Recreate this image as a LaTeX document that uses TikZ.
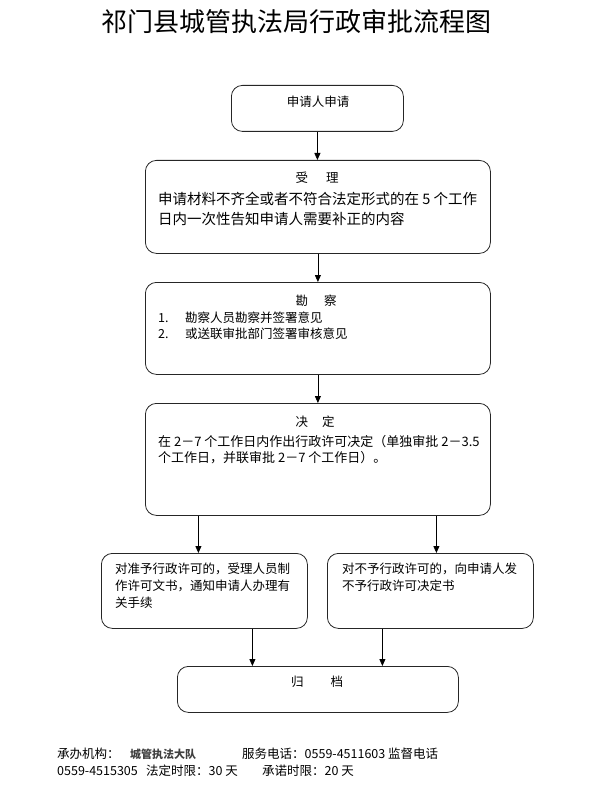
\documentclass[tikz,border=0pt]{standalone}
\usepackage{fontspec}
\setmainfont{Noto Sans CJK SC}
\usetikzlibrary{arrows.meta}

\begin{document}
\begin{tikzpicture}[
    x=1pt, y=-1pt,
    >={Triangle[length=7pt,width=6pt]},
    box/.style={draw=black!85, line width=0.8pt, rounded corners=11pt, anchor=north west, inner sep=0pt},
    arr/.style={->, line width=0.8pt},
    head/.style={font=\fontsize{12.5}{15}\selectfont, inner sep=0pt},
    body/.style={font=\fontsize{12.5}{16}\selectfont, align=left, anchor=north west, inner sep=0pt},
    foot/.style={font=\fontsize{12.5}{15}\selectfont, anchor=west, inner sep=0pt}
]
    \useasboundingbox (0,0) rectangle (597,794);
    \node[font=\fontsize{26}{30}\selectfont, inner sep=0pt] (title) at (296,22) {祁门县城管执法局行政审批流程图};

    \node[box, minimum width=172pt, minimum height=46pt] (apply) at (231,85) {};
    \node[box, minimum width=345pt, minimum height=93pt] (accept) at (145,160) {};
    \node[box, minimum width=345pt, minimum height=92pt] (survey) at (145,282) {};
    \node[box, minimum width=345pt, minimum height=112pt] (decide) at (145,403) {};
    \node[box, minimum width=206pt, minimum height=75pt] (grant) at (101,553) {};
    \node[box, minimum width=206pt, minimum height=75pt] (refuse) at (327,553) {};
    \node[box, minimum width=281pt, minimum height=46pt] (archive) at (177,666) {};

    \node[head] (applyT) at (318,102) {申请人申请};
    \node[head] (acceptH) at (317,178) {受\hspace{18pt}理};
    \node[body, font=\fontsize{14.5}{20}\selectfont] (acceptT) at (158,192) {申请材料不齐全或者不符合法定形式的在 5 个工作\\日内一次性告知申请人需要补正的内容};
    \node[head] (surveyH) at (316,301) {勘\hspace{16pt}察};
    \node[body] (surveyT) at (158,312) {\makebox[27pt][l]{1.}勘察人员勘察并签署意见\\\makebox[27pt][l]{2.}或送联审批部门签署审核意见};
    \node[head] (decideH) at (315,422) {决\hspace{14pt}定};
    \node[body, font=\fontsize{13}{16}\selectfont] (decideT) at (158,435) {在 2－7 个工作日内作出行政许可决定（单独审批 2－3.5\\个工作日，并联审批 2－7 个工作日）。};
    \node[body, font=\fontsize{12.5}{17}\selectfont] (grantT) at (115,563) {对准予行政许可的，受理人员制\\作许可文书，通知申请人办理有\\关手续};
    \node[body, font=\fontsize{12.5}{17}\selectfont] (refuseT) at (342,563) {对不予行政许可的，向申请人发\\不予行政许可决定书};
    \node[head] (archiveT) at (317,682) {归\hspace{27pt}档};

    \draw[arr] (apply.south) -- (apply.south |- accept.north);
    \draw[arr] (accept.south) -- (survey.north);
    \draw[arr] (survey.south) -- (decide.north);
    \draw[arr] ([xshift=-6pt]grant.north |- decide.south) -- ([xshift=-6pt]grant.north);
    \draw[arr] ([xshift=6pt]refuse.north |- decide.south) -- ([xshift=6pt]refuse.north);
    \draw[arr] ([xshift=48pt]grant.south) -- ([xshift=48pt]grant.south |- archive.north);
    \draw[arr] ([xshift=-48pt]refuse.south) -- ([xshift=-48pt]refuse.south |- archive.north);

    \node[foot] (agency) at (57,754) {承办机构：};
    \node[foot, font=\fontsize{11}{13}\selectfont\bfseries, text=black!75] (agencyName) at (130,754) {城管执法大队};
    \node[foot] (phone) at (242,754) {服务电话：0559-4511603 监督电话};
    \node[foot] (phoneB) at (57,771) {0559-4515305};
    \node[foot] (legal) at (146,771) {法定时限：30 天};
    \node[foot] (promise) at (262,771) {承诺时限：20 天};
\end{tikzpicture}
\end{document}
